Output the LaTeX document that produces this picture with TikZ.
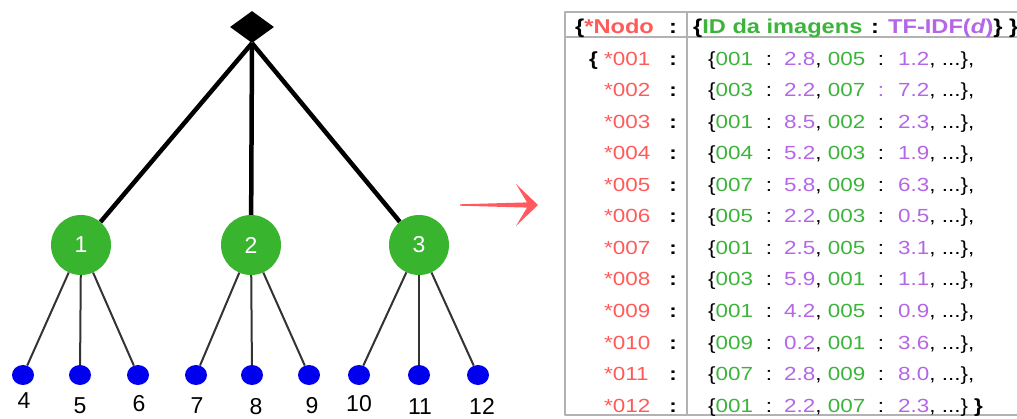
\documentclass[tikz,border=0pt]{standalone}
\usepackage{fontspec}
\setmainfont{Liberation Sans}
\newfontfamily\tabfont{Liberation Sans}[FakeStretch=1.18]
\usetikzlibrary{shapes.geometric,calc}
\definecolor{nodored}{HTML}{FF5A5A}
\definecolor{imgverde}{HTML}{3CB43C}
\definecolor{tfroxo}{HTML}{B466E6}
\definecolor{verdeno}{HTML}{38B42E}
\definecolor{azulfolha}{HTML}{0000EE}
\definecolor{setared}{HTML}{FF5A5F}
\begin{document}
\begin{tikzpicture}[x=1pt,y=-1pt,line join=round,line cap=round,
  raiz/.style={diamond,fill=black,inner sep=0pt,minimum width=44pt,minimum height=32pt},
  no/.style={circle,fill=verdeno,text=white,inner sep=0pt,minimum size=60pt,font=\fontsize{23}{23}\selectfont},
  folha/.style={ellipse,fill=azulfolha,inner sep=0pt,minimum width=22pt,minimum height=20pt},
  rotulo/.style={inner sep=0pt,font=\fontsize{23}{23}\selectfont},
  tronco/.style={line width=4.5pt,line cap=butt},
  ramo/.style={line width=2pt,black!80,line cap=butt},
  celula/.style={inner sep=0pt,anchor=base west,font=\tabfont\fontsize{19}{19}\selectfont},
  cab/.style={inner sep=0pt,anchor=base west,font=\tabfont\bfseries\fontsize{20}{20}\selectfont},
  linha/.style={gray!60,line width=1.6pt,line cap=butt},
  seta/.style={fill=setared}]
\useasboundingbox (0,0) rectangle (1017,419);
% arvore
\node[raiz] (r) at (252,27) {};
\foreach \n/\x in {1/81,2/251,3/419} \node[no] (n\n) at (\x,245) {\n};
\foreach \n in {1,2,3} \draw[tronco] (r.south) -- (n\n);
\foreach \f/\x/\lx/\ly/\p in {4/23/24/401/1,5/80/80/406/1,6/138/139/404/1,7/196/197/406/2,8/252/256/407/2,9/309/312/406/2,10/359/359/404/3,11/419/420/407/3,12/478/482/406/3}{
  \node[folha] (f\f) at (\x,375) {};
  \node[rotulo] (t\f) at (\lx,\ly) {\f};
  \draw[ramo] (n\p) -- (f\f);
}
% seta
\coordinate (sa) at (460,205);
\coordinate (pa) at (538,205);
\fill[seta] ($(sa)+(0,-0.7)$) -- ($(pa)+(-11,-2.6)$) -- ($(pa)+(-22,-21)$) -- (pa) -- ($(pa)+(-22,21)$) -- ($(pa)+(-11,2.6)$) -- ($(sa)+(0,0.7)$) -- cycle;
% tabela
\draw[linha] (1017,12) -- (565,12) -- (565,415) -- (1017,415);
\draw[linha] (565,37) -- (1017,37);
\draw[linha] (687,12) -- (687,415);
\node[cab] (hn) at (575,34) {\{\textcolor{nodored}{*Nodo}};
\node[cab,anchor=base] (hc) at (673,34) {:};
\node[cab] (hi) at (693,34) {\{\textcolor{imgverde}{ID da imagens}};
\node[cab,anchor=base] (hd) at (875,34) {:};
\node[cab] (ht) at (888,34) {\textcolor{tfroxo}{TF-IDF(\textit{d})}\} \}};
\node[celula] (ob) at (589,65.5) {\textbf{\{}};
\foreach \nid/\ia/\va/\ib/\vb [count=\r] in {001/001/2.8/005/1.2,002/003/2.2/007/7.2,003/001/8.5/002/2.3,004/004/5.2/003/1.9,005/007/5.8/009/6.3,006/005/2.2/003/0.5,007/001/2.5/005/3.1,008/003/5.9/001/1.1,009/001/4.2/005/0.9,010/009/0.2/001/3.6,011/007/2.8/009/8.0,012/001/2.2/007/2.3}{
  \pgfmathsetmacro\yb{65.5+(\r-1)*31.5}
  \node[celula] (id\r) at (604,\yb) {\textcolor{nodored}{*\nid}};
  \node[celula,anchor=base] (ca\r) at (673,\yb) {\textbf{:}};
  \node[celula] (ia\r) at (708,\yb) {\{\textcolor{imgverde}{\ia}};
  \node[celula,anchor=base] (cb\r) at (769,\yb) {:};
  \node[celula] (va\r) at (784,\yb) {\textcolor{tfroxo}{\va}, \textcolor{imgverde}{\ib}};
  \node[celula,anchor=base] (cc\r) at (881,\yb) {\ifnum\r=2 \color{tfroxo}\fi :};
  \node[celula] (vb\r) at (898,\yb) {\textcolor{tfroxo}{\vb}, ...\}\ifnum\r<12 ,\else\ \textbf{\}}\fi};
}
\end{tikzpicture}
\end{document}
